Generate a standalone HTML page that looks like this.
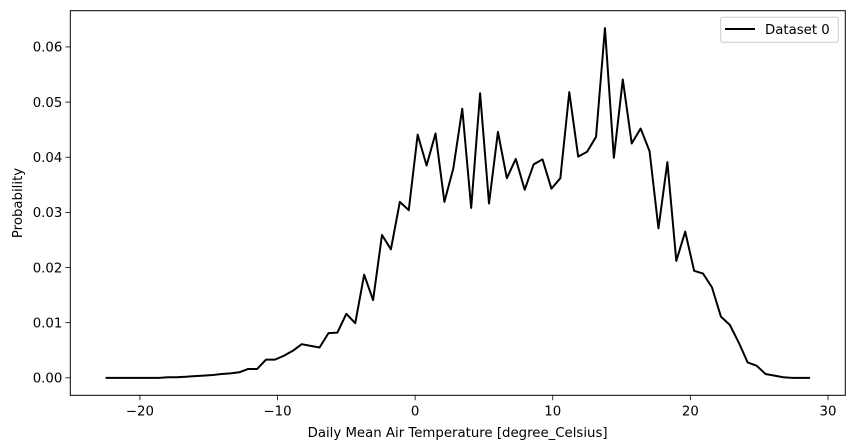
<!DOCTYPE html>
<html><head><meta charset="utf-8"><style>
html,body{margin:0;padding:0;background:#fff;}
svg{display:block;font-family:"DejaVu Sans","Liberation Sans",sans-serif;}
</style></head><body>
<svg id="chart" width="855" height="448" viewBox="0 0 855 448" xmlns="http://www.w3.org/2000/svg">
<rect width="855" height="448" fill="#fff"/>
<g id="axes"></g>
<rect x="70.3" y="10.7" width="775" height="384.6" fill="none" stroke="#000" stroke-width="1"/>
<g>
<rect x="720.7" y="17.3" width="117.6" height="25" rx="2" fill="#fff" fill-opacity="0.8" stroke="#ccc"/>
<line x1="725" y1="29" x2="755" y2="29" stroke="#000" stroke-width="2"/>
<text x="765" y="34" font-size="13.3">Dataset 0</text>
</g>
<text x="457.6" y="437" font-size="13.3" text-anchor="middle">Daily Mean Air Temperature [degree_Celsius]</text>
<text transform="translate(22,203) rotate(-90)" font-size="13.3" text-anchor="middle">Probability</text>
</svg>
<script>
const values = [0,0,0,0,0,0,0,0.0001,0.0001,0.0002,0.0003,0.0004,0.0005,0.0007,0.0008,0.0010,0.0016,0.0016,0.0033,0.0033,
0.0040,0.0049,0.0061,0.0058,0.0055,0.0081,0.0082,0.0116,0.0099,0.0187,0.0141,0.0259,0.0233,0.0319,0.0304,0.0441,0.0385,0.0443,0.0319,0.0380,
0.0488,0.0308,0.0516,0.0316,0.0446,0.0362,0.0397,0.0341,0.0387,0.0396,0.0343,0.0362,0.0518,0.0401,0.0410,0.0437,0.0634,0.0399,0.0541,0.0425,
0.0452,0.0411,0.0271,0.0391,0.0212,0.0265,0.0194,0.0189,0.0164,0.0111,0.0096,0.0064,0.0028,0.0022,0.0007,0.0004,0.0001,0,0,0];
const xStart = -22.5;
const xEnd = 28.7;
const xTicks = [-20,-10,0,10,20,30];
const yTicks = [0,0.01,0.02,0.03,0.04,0.05,0.06];
const yTickLabels = ["0.00","0.01","0.02","0.03","0.04","0.05","0.06"];

const NS="http://www.w3.org/2000/svg";
const svg=document.getElementById('chart');
const axes=document.getElementById('axes');
const X0=70.3,X1=845.3,Y0=395.3,Y1=10.7;
const n=values.length;
const xs=values.map((v,i)=>xStart+i*(xEnd-xStart)/(n-1));
const xmin=Math.min(...xs),xmax=Math.max(...xs),xm=(xmax-xmin)*0.05;
const vmin=Math.min(0,...values),vmax=Math.max(...values),ym=(vmax-vmin)*0.05;
const sx=x=>X0+(x-(xmin-xm))/((xmax+xm)-(xmin-xm))*(X1-X0);
const sy=v=>Y0-(v-(vmin-ym))/((vmax+ym)-(vmin-ym))*(Y0-Y1);
function mk(tag,attrs){const e=document.createElementNS(NS,tag);for(const k in attrs)e.setAttribute(k,attrs[k]);return e;}
xTicks.forEach(t=>{
  const x=sx(t);
  const l=mk('line',{x1:x,y1:Y0,x2:x,y2:Y0+4.9,stroke:'#000','stroke-width':0.8});
  
  
  axes.appendChild(l);
  const tx=mk('text',{x:x,y:Y0+20,'font-size':13.3,'text-anchor':'middle'});
  
  
  tx.textContent=(t<0?'\u2212'+Math.abs(t):String(t));
  axes.appendChild(tx);
});
yTicks.forEach((t,i)=>{
  const y=sy(t);
  const l=mk('line',{x1:X0-4.9,y1:y,x2:X0,y2:y,stroke:'#000','stroke-width':0.8});
  
  
  axes.appendChild(l);
  const tx=mk('text',{x:X0-8,y:y+4.8,'font-size':13.3,'text-anchor':'end'});
  
  
  tx.textContent=yTickLabels[i];
  axes.appendChild(tx);
});
const pts=values.map((v,i)=>sx(xs[i]).toFixed(2)+','+sy(v).toFixed(2)).join(' ');
const line=mk('polyline',{points:pts,fill:'none',stroke:'#000','stroke-width':2,'stroke-linejoin':'round'});


axes.appendChild(line);
</script>
</body></html>
